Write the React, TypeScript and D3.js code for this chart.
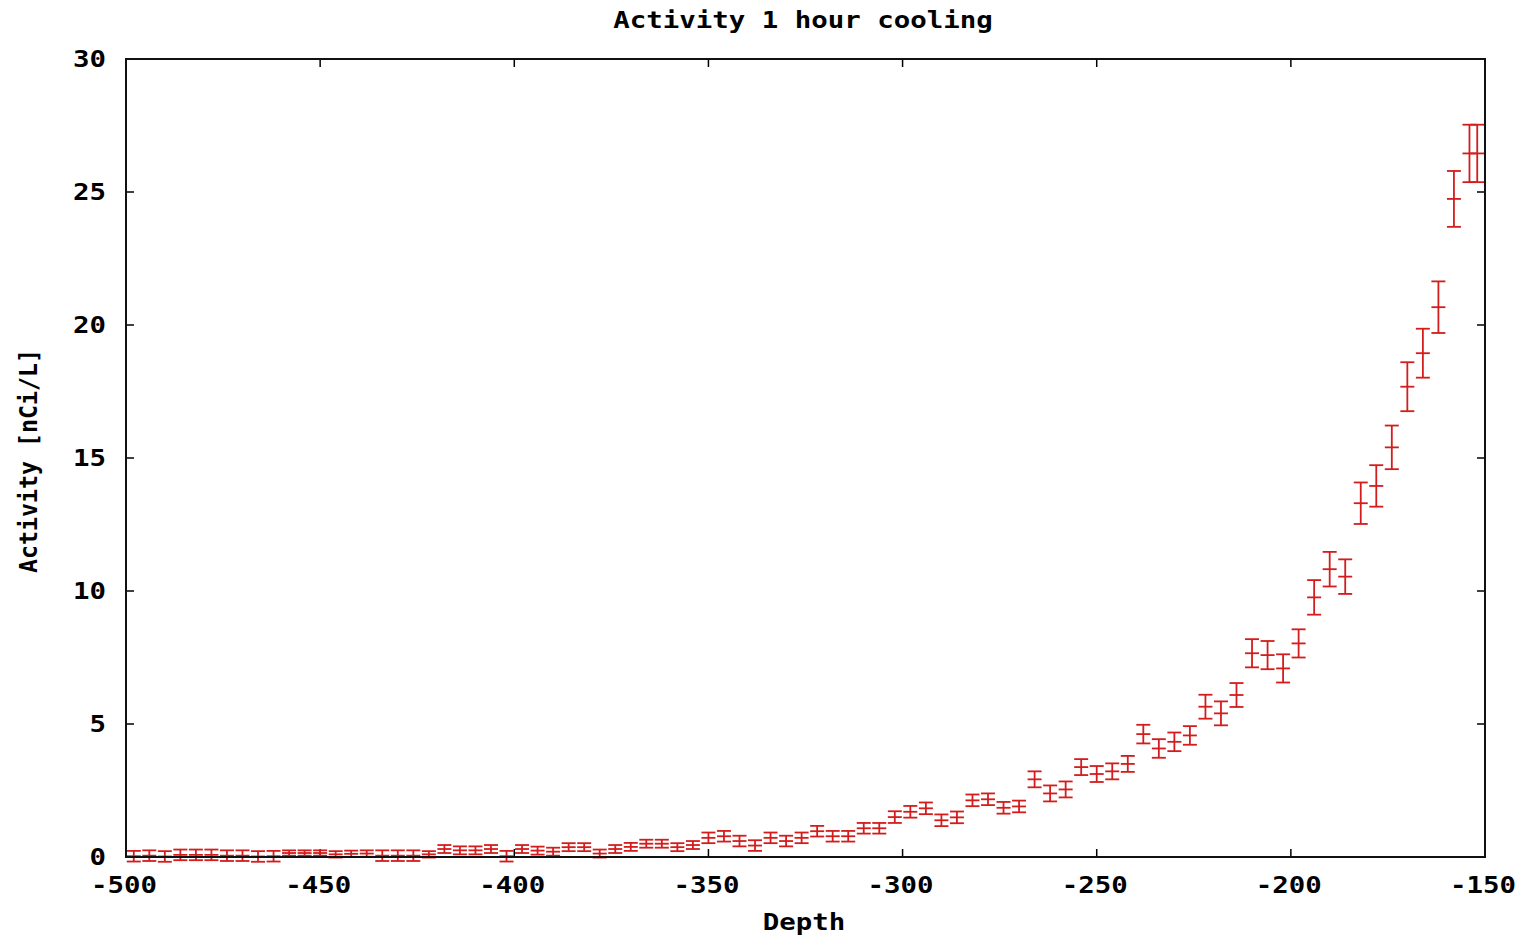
import React from "react";
import * as d3 from "d3";

const title = "Activity 1 hour cooling";
const xLabel = "Depth";
const yLabel = "Activity [nCi/L]";

const xTicks = [-500, -450, -400, -350, -300, -250, -200, -150];
const yTicks = [0, 5, 10, 15, 20, 25, 30];

const depths = [
  -498, -494, -490, -486, -482, -478, -474, -470, -466, -462,
  -458, -454, -450, -446, -442, -438, -434, -430, -426, -422,
  -418, -414, -410, -406, -402, -398, -394, -390, -386, -382,
  -378, -374, -370, -366, -362, -358, -354, -350, -346, -342,
  -338, -334, -330, -326, -322, -318, -314, -310, -306, -302,
  -298, -294, -290, -286, -282, -278, -274, -270, -266, -262,
  -258, -254, -250, -246, -242, -238, -234, -230, -226, -222,
  -218, -214, -210, -206, -202, -198, -194, -190, -186, -182,
  -178, -174, -170, -166, -162, -158, -154, -152,
];

const activity = [
  0.03, 0.05, 0.02, 0.08, 0.08, 0.08, 0.05, 0.05, 0.02, 0.03,
  0.15, 0.15, 0.15, 0.1, 0.12, 0.13, 0.05, 0.05, 0.05, 0.1,
  0.3, 0.25, 0.25, 0.3, 0.03, 0.3, 0.24, 0.2, 0.37, 0.37,
  0.13, 0.3, 0.38, 0.5, 0.5, 0.37, 0.45, 0.72, 0.78, 0.6,
  0.43, 0.72, 0.6, 0.72, 0.97, 0.78, 0.78, 1.08, 1.08, 1.5,
  1.7, 1.83, 1.38, 1.49, 2.13, 2.17, 1.85, 1.9, 2.92, 2.39,
  2.54, 3.38, 3.12, 3.22, 3.5, 4.62, 4.08, 4.33, 4.57, 5.65,
  5.4, 6.09, 7.66, 7.59, 7.09, 8.03, 9.76, 10.82, 10.54, 13.3,
  13.95, 15.4, 17.68, 18.94, 20.67, 24.74, 26.45, 26.45,
];

const errors = [
  0.2, 0.2, 0.2, 0.2, 0.2, 0.2, 0.2, 0.2, 0.2, 0.2,
  0.1, 0.1, 0.1, 0.12, 0.12, 0.12, 0.2, 0.2, 0.2, 0.12,
  0.15, 0.15, 0.15, 0.15, 0.2, 0.15, 0.15, 0.15, 0.15, 0.15,
  0.15, 0.15, 0.15, 0.15, 0.15, 0.15, 0.15, 0.2, 0.2, 0.2,
  0.2, 0.2, 0.2, 0.2, 0.2, 0.2, 0.2, 0.2, 0.2, 0.22,
  0.22, 0.22, 0.22, 0.22, 0.22, 0.22, 0.22, 0.22, 0.3, 0.3,
  0.3, 0.3, 0.3, 0.3, 0.3, 0.35, 0.35, 0.35, 0.35, 0.45,
  0.45, 0.45, 0.53, 0.53, 0.53, 0.53, 0.65, 0.65, 0.65, 0.78,
  0.78, 0.82, 0.92, 0.92, 0.97, 1.05, 1.08, 1.08,
];

const W = 1523;
const H = 936;
const FONT = "'DejaVu Sans Mono', 'Liberation Mono', monospace";
const RED = "#d41c1c";
const CHAR_W = 16.5;

export default function App() {
  const x = d3.scaleLinear().domain([-500, -150]).range([126, 1485]);
  const y = d3.scaleLinear().domain([0, 30]).range([857, 59]);
  const [x0, x1] = x.range();
  const [y0, y1] = y.range();
  const cap = 7;
  const tickLen = 8;

  const txt = (s: string, props: any) => (
    <text
      fontFamily={FONT}
      fontWeight="bold"
      fontSize={23}
      fill="#000"
      textLength={s.length * CHAR_W}
      lengthAdjust="spacingAndGlyphs"
      {...props}
    >
      {s}
    </text>
  );

  return (
    <svg
      width={W}
      height={H}
      style={{ position: "absolute", left: 0, top: 0, background: "#fff" }}
    >
      <rect x={0} y={0} width={W} height={H} fill="#fff" />
      {txt(title, { x: 803, y: 28, textAnchor: "middle" })}

      {yTicks.map((t) => (
        <g key={"y" + t}>
          <line x1={x0} x2={x0 + tickLen} y1={y(t)} y2={y(t)} stroke="#000" strokeWidth={1.5} />
          <line x1={x1} x2={x1 - tickLen} y1={y(t)} y2={y(t)} stroke="#000" strokeWidth={1.5} />
          {txt(String(t), { x: 106, y: y(t) + 8, textAnchor: "end" })}
        </g>
      ))}
      {xTicks.map((t) => (
        <g key={"x" + t}>
          <line x1={x(t)} x2={x(t)} y1={y0} y2={y0 - tickLen} stroke="#000" strokeWidth={1.5} />
          <line x1={x(t)} x2={x(t)} y1={y1} y2={y1 + tickLen} stroke="#000" strokeWidth={1.5} />
          {txt(String(t), { x: x(t) - 2, y: 893, textAnchor: "middle" })}
        </g>
      ))}

      <g stroke={RED} strokeWidth={1.8} fill="none">
        {depths.map((d, i) => {
          const cx = x(d);
          const cy = y(activity[i]);
          const top = y(activity[i] + errors[i]);
          const bot = y(activity[i] - errors[i]);
          return (
            <g key={i}>
              <line x1={cx} x2={cx} y1={top} y2={bot} />
              <line x1={cx - cap} x2={cx + cap} y1={top} y2={top} />
              <line x1={cx - cap} x2={cx + cap} y1={bot} y2={bot} />
              <line x1={cx - cap} x2={cx + cap} y1={cy} y2={cy} />
            </g>
          );
        })}
      </g>

      <rect
        x={x0}
        y={y1}
        width={x1 - x0}
        height={y0 - y1}
        fill="none"
        stroke="#111"
        strokeWidth={2}
      />

      {txt(xLabel, { x: 804, y: 930, textAnchor: "middle" })}
      <g transform={`translate(37, 461) rotate(-90)`}>
        <text
          fontFamily={FONT}
          fontWeight="bold"
          fontSize={24}
          fill="#000"
          textAnchor="middle"
          textLength={yLabel.length * 14}
          lengthAdjust="spacingAndGlyphs"
        >
          {yLabel}
        </text>
      </g>
    </svg>
  );
}
